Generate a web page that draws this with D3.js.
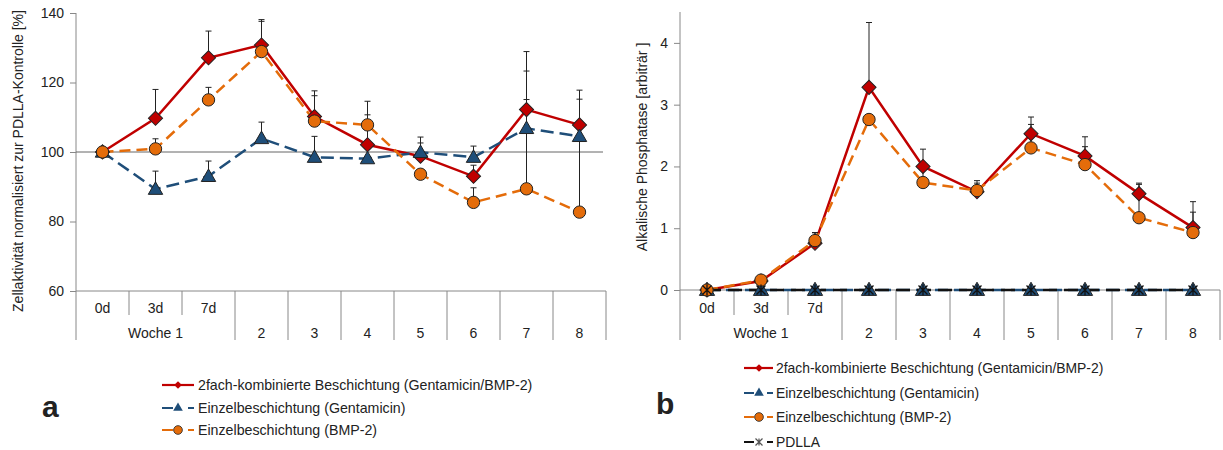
<!DOCTYPE html>
<html><head><meta charset="utf-8">
<script src="https://cdn.jsdelivr.net/npm/d3@7"></script>
<style>
body{margin:0;background:#fff;}
text{font-family:"Liberation Sans",Arial,sans-serif;fill:#222;}
</style></head><body>
<svg id="c" width="1223" height="450"></svg>
<script>
// ---------- DATA ----------
const categories = ["0d","3d","7d","2","3","4","5","6","7","8"];
const subLabels = ["0d","3d","7d"];
const weekLabels = ["Woche 1","2","3","4","5","6","7","8"];

// Panel a: Zellaktivität [%]
const aTicks = [60,80,100,120,140];
const aCombi  = [100,109.7,127.1,130.8,110.2,102.1,98.8,93.0,112.2,107.8];
const aCombiErr = [0,8.3,7.7,7.3,7.4,8.6,3.8,3.2,16.7,10.0];
const aGenta  = [100,89.3,93.0,103.9,98.5,98.1,99.9,98.5,106.8,104.5];
const aGentaErr = [0,5.2,4.4,4.7,6.0,0,4.4,3.2,16.5,0];
const aBmp    = [100,100.9,115.0,128.9,108.9,107.8,93.6,85.5,89.4,82.7];
const aBmpErr = [0,2.9,3.6,8.7,7.3,6.8,0,4.2,25.7,32.5];

// Panel b: Alkalische Phosphatase [arbiträr]
const bTicks = [0,1,2,3,4];
const bCombi  = [0,0.146,0.756,3.28,2.0,1.59,2.53,2.17,1.56,1.01];
const bCombiErr = [0,0,0.17,1.05,0.28,0.18,0.27,0.31,0.17,0.42];
const bGenta  = [0,0,0,0,0,0,0,0,0,0];
const bBmp    = [0,0.16,0.80,2.76,1.74,1.61,2.30,2.03,1.17,0.93];
const bBmpErr = [0,0,0.13,0,0.25,0.12,0.38,0.29,0.54,0.33];
const bPdlla  = [0,0,0,0,0,0,0,0,0,0];

const legendA = ["2fach-kombinierte Beschichtung (Gentamicin/BMP-2)","Einzelbeschichtung (Gentamicin)","Einzelbeschichtung (BMP-2)"];
const legendB = ["2fach-kombinierte Beschichtung (Gentamicin/BMP-2)","Einzelbeschichtung (Gentamicin)","Einzelbeschichtung (BMP-2)","PDLLA"];

// ---------- STYLE ----------
const RED="#C00000", BLUE="#1F4E79", ORANGE="#E46C0A", BLACK="#111";
const svg = d3.select("#c");

function markerPath(type, size){
  if(type==="diamond") return d3.symbol(d3.symbolSquare, size)();
  if(type==="triangle") return d3.symbol(d3.symbolTriangle, size)();
  if(type==="circle") return d3.symbol(d3.symbolCircle, size)();
  return "";
}
function markerRot(type){ return type==="diamond" ? " rotate(45)" : ""; }

function panel(opt){
  const g = svg.append("g");
  const x = d3.scaleBand().domain(categories).range(opt.xr).paddingInner(0).paddingOuter(0);
  const y = d3.scaleLinear().domain(opt.yd).range(opt.yr);
  const yBase = y(opt.yd[0]);
  const cx = c => x(c) + x.bandwidth()/2;

  // y axis
  const ax = g.append("g").attr("transform",`translate(${opt.xr[0]},0)`)
    .call(d3.axisLeft(y).tickValues(opt.ticks).tickSize(6).tickPadding(6).tickFormat(d3.format("d")));
  ax.select(".domain").remove();
  ax.selectAll(".tick line").attr("stroke","#888");
  ax.selectAll(".tick text").style("font-size","14px").attr("fill","#222");
  g.append("line").attr("x1",opt.xr[0]).attr("x2",opt.xr[0]).attr("y1",opt.yr[1]).attr("y2",340).attr("stroke","#888");

  // x axis baseline
  g.append("line").attr("x1",opt.xr[0]).attr("x2",opt.xr[1]).attr("y1",yBase).attr("y2",yBase).attr("stroke","#888");
  // reference line
  if(opt.refLine!==undefined){
    g.append("line").attr("x1",opt.xr[0]).attr("x2",opt.refEnd).attr("y1",y(opt.refLine)).attr("y2",y(opt.refLine)).attr("stroke","#666").attr("stroke-width",1);
  }
  // category separators
  categories.forEach((c,i)=>{
    if(i===0) return;
    const xx = x(c);
    const short = i<3;
    g.append("line").attr("x1",xx).attr("x2",xx).attr("y1",yBase).attr("y2",short?315:340).attr("stroke","#888");
  });
  g.append("line").attr("x1",opt.xr[1]).attr("x2",opt.xr[1]).attr("y1",yBase).attr("y2",340).attr("stroke","#888");
  // labels
  subLabels.forEach(c=>{
    g.append("text").attr("x",cx(c)).attr("y",313).attr("text-anchor","middle").style("font-size","14px").text(c);
  });
  weekLabels.forEach((w,i)=>{
    let xm;
    if(i===0) xm = (x("0d")+x("7d")+x.bandwidth())/2;
    else xm = cx(categories[i+2]);
    g.append("text").attr("x",xm).attr("y",338).attr("text-anchor","middle").style("font-size","14px").text(w);
  });
  // y label
  g.append("text").attr("transform",`translate(${opt.ylx},${opt.yly}) rotate(-90)`).attr("text-anchor","middle")
    .style("font-size",opt.ylfs).text(opt.ylabel);

  // series
  opt.series.forEach(s=>{
    const line = d3.line().x((d,i)=>cx(categories[i])).y(d=>y(d));
    g.append("path").attr("d",line(s.values)).attr("fill","none").attr("stroke",s.color)
      .attr("stroke-width",s.lw||2.5).attr("stroke-dasharray",s.dash||null);
  });
  // error bars
  opt.series.forEach(s=>{
    if(!s.err) return;
    s.values.forEach((v,i)=>{
      const e = s.err[i]; if(!e) return;
      const xx = cx(categories[i]);
      g.append("line").attr("x1",xx).attr("x2",xx).attr("y1",y(v)).attr("y2",y(v+e)).attr("stroke","#222").attr("stroke-width",1);
      g.append("line").attr("x1",xx-3).attr("x2",xx+3).attr("y1",y(v+e)).attr("y2",y(v+e)).attr("stroke","#222").attr("stroke-width",1);
    });
  });
  // markers
  opt.series.forEach(s=>{
    s.values.forEach((v,i)=>{
      const xx = cx(categories[i]);
      if(s.marker==="star"){
        const r=4.5;
        g.append("path").attr("d",`M${xx-r},${y(v)-r}L${xx+r},${y(v)+r}M${xx-r},${y(v)+r}L${xx+r},${y(v)-r}M${xx},${y(v)-r-1}L${xx},${y(v)+r+1}`)
          .attr("stroke",BLACK).attr("stroke-width",1.3).attr("fill","none");
      } else {
        g.append("path").attr("d",markerPath(s.marker,s.msize)).attr("transform",`translate(${xx},${y(v)+(s.marker==="triangle"?1:0)})${markerRot(s.marker)}`)
          .attr("fill",s.color).attr("stroke","#222").attr("stroke-width",1);
      }
    });
  });

  // legend
  opt.legend.forEach((t,i)=>{
    const s = opt.series[opt.legendOrder[i]];
    const ly = opt.ly[i];
    const lx = opt.lx;
    const L = opt.lw;
    let dash = null;
    if(s.dash) dash = `${opt.lseg},${L-opt.lseg-6},6`;
    g.append("line").attr("x1",lx).attr("x2",lx+L).attr("y1",ly).attr("y2",ly).attr("stroke",s.color).attr("stroke-width",2.2).attr("stroke-dasharray",dash);
    const mx = lx+opt.lseg+5;
    if(s.marker==="star"){
      const r=3.5;
      g.append("path").attr("d",`M${mx-r},${ly-r}L${mx+r},${ly+r}M${mx-r},${ly+r}L${mx+r},${ly-r}M${mx},${ly-r}L${mx},${ly+r}`)
        .attr("stroke","#555").attr("stroke-width",1.2).attr("fill","none");
    } else {
      g.append("path").attr("d",markerPath(s.marker,s.marker==="circle"?60:(s.marker==="diamond"?30:40))).attr("transform",`translate(${mx},${ly})${markerRot(s.marker)}`)
        .attr("fill",s.color).attr("stroke",s.marker==="circle"?"#222":"none").attr("stroke-width",0.8);
    }
    g.append("text").attr("x",opt.tx).attr("y",ly+5).style("font-size",opt.lfs).text(t);
  });
  g.append("text").attr("x",opt.letter[0]).attr("y",opt.letter[1]).style("font-size","30px").style("font-weight","bold").attr("fill","#000").text(opt.letter[2]);
}

panel({
  xr:[76,606], yd:[60,140], yr:[291,13], ticks:aTicks, refLine:100, refEnd:603,
  ylabel:"Zellaktivität normalisiert zur PDLLA-Kontrolle [%]", ylx:23, yly:161, ylfs:"14px",
  series:[
    {values:aCombi, err:aCombiErr, color:RED, marker:"diamond", msize:100},
    {values:aGenta, err:aGentaErr, color:BLUE, marker:"triangle", msize:90, dash:"13,6"},
    {values:aBmp, err:aBmpErr, color:ORANGE, marker:"circle", msize:120, dash:"11,6"}
  ],
  legend:legendA, legendOrder:[0,1,2], ly:[385,408,430], lx:162, lw:32, lseg:11, tx:198, lfs:"14.2px",
  letter:[42,417,"a"]
});

panel({
  xr:[680,1220], yd:[0,4.5], yr:[290,12], ticks:bTicks,
  ylabel:"Alkalische Phosphatase [arbiträr ]", ylx:647, yly:147, ylfs:"14px",
  series:[
    {values:bCombi, err:bCombiErr, color:RED, marker:"diamond", msize:100},
    {values:bGenta, color:BLUE, marker:"triangle", msize:100, dash:"13,6"},
    {values:bBmp, err:bBmpErr, color:ORANGE, marker:"circle", msize:120, dash:"11,6"},
    {values:bPdlla, color:BLACK, marker:"star", msize:40, dash:"14,7", lw:2.5}
  ],
  legend:legendB, legendOrder:[0,1,2,3], ly:[368,393,417,442], lx:744, lw:29, lseg:10, tx:776, lfs:"13.9px",
  letter:[656,414,"b"]
});
</script>
</body></html>
